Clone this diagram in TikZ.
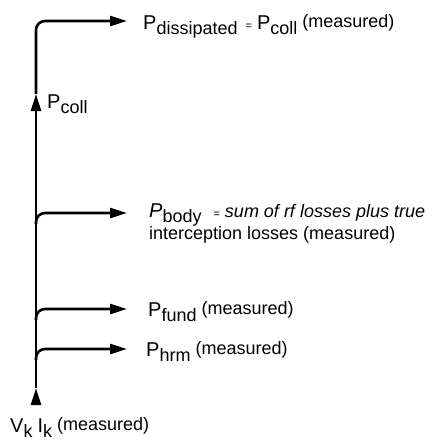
\documentclass[tikz,border=0pt]{standalone}
\usepackage{fontspec}
\setmainfont{Liberation Sans}
\usetikzlibrary{arrows.meta}

% P grande com índice descido; o índice fica "smashed" para não mexer no entrelinha
\newcommand{\Pidx}[2]{{\fontsize{20}{20}\selectfont #1}\smash{\raisebox{-5pt}{#2}}}
\newcommand{\meas}{\raisebox{2pt}{(measured)}}
\newcommand{\eqsm}{\hspace{8pt}{\fontsize{11}{11}\selectfont =}\hspace{5pt}}

\begin{document}
\begin{tikzpicture}[x=1pt, y=1pt,
    font=\fontsize{18}{21}\selectfont,
    flow/.style={line width=2.6pt, -{Triangle[length=17pt, width=10pt]}},
    branch/.style={flow, rounded corners=9pt},
    lbl/.style={anchor=base west, inner sep=0pt}]
  % y negativo: medido a partir do topo da figura
  \useasboundingbox (0,0) rectangle (444,-444);
  % pontos do tronco vertical
  \coordinate (bus-bot) at (36,-404);
  \coordinate (bus-arr) at (36,-388);
  \coordinate (coll-tip) at (36,-94);
  \coordinate (br-body) at (36,-224);
  \coordinate (br-fund) at (36,-320);
  \coordinate (br-hrm) at (36,-360);
  % pontas das setas para a direita
  \coordinate (tip-diss) at (127,-21);
  \coordinate (tip-body) at (127,-213);
  \coordinate (tip-fund) at (127,-309);
  \coordinate (tip-hrm) at (127,-349);
  % textos
  \node[lbl] (diss) at (143,-30) {\Pidx{P}{dissipated}\eqsm\Pidx{P}{coll} \meas};
  \node[lbl] (coll) at (47,-108) {\Pidx{P}{coll}};
  \node[lbl] (body) at (149,-217) {\Pidx{\itshape P}{body}\hspace{4pt}\eqsm\itshape sum of rf losses plus true};
  \node[lbl] (body-cont) at (149,-239) {interception losses (measured)};
  \node[lbl] (fund) at (148,-316) {\Pidx{P}{fund} \meas};
  \node[lbl] (hrm) at (146,-356) {\Pidx{P}{hrm} \meas};
  \node[lbl] (vk) at (10,-432) {\Pidx{V}{k} \Pidx{I}{k} \meas};
  % tronco: duas pontas a meio, depois a curva para o topo
  \draw[flow] (bus-bot) -- (bus-arr);
  \draw[flow] (bus-arr) -- (coll-tip);
  \draw[branch] (coll-tip) |- (tip-diss);
  \draw[branch] (br-body) |- (tip-body);
  \draw[branch] (br-fund) |- (tip-fund);
  \draw[branch] (br-hrm) |- (tip-hrm);
\end{tikzpicture}
\end{document}
